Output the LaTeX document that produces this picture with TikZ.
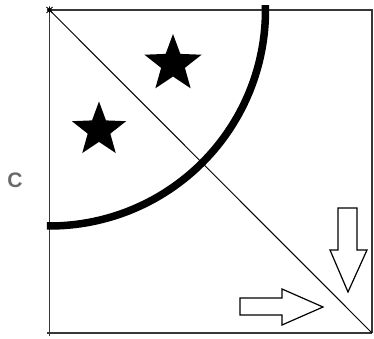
\documentclass[tikz,border=0pt]{standalone}
\usepackage{fontspec}
\setmainfont{Liberation Sans}
\usepackage{xcolor}
\usetikzlibrary{shapes.geometric}
\definecolor{framegray}{RGB}{55,55,55}
\definecolor{labelgray}{RGB}{105,105,105}

\begin{document}
\begin{tikzpicture}[
    x=1pt, y=1pt,
    frame/.style={draw=framegray, line width=1.9pt},
    diag/.style={draw=black, line width=1pt},
    bigarc/.style={draw=black, line width=7.5pt},
    starmark/.style={star, star points=5, star point ratio=2.4, fill=black, inner sep=0pt},
    hollow/.style={draw=black, fill=white, line width=1.2pt, line join=miter},
    lbl/.style={text=labelgray, font=\fontsize{21}{23}\selectfont\bfseries}
]
    \useasboundingbox (0,0) rectangle (374,338);

    % Corners
    \coordinate (tl) at (49.5,328);
    \coordinate (tr) at (372,328);
    \coordinate (br) at (372,5);
    \coordinate (bl) at (49.5,5);

    % Square
    \draw[frame] ([yshift=-3]bl) -- ([yshift=1]tl);
    \draw[frame] ([xshift=-2.5]tl) -- (tr) -- (br);
    \draw[frame] ([xshift=-2.5]bl) -- (br);

    % Corner mark
    \draw[black, line width=0.8pt] ([shift={(-3,-3)}]tl) -- ([shift={(3,3)}]tl)
        ([shift={(-3,3)}]tl) -- ([shift={(3,-3)}]tl)
        ([yshift=-3.5]tl) -- ([yshift=3.5]tl);
    \fill (tl) circle (2);

    % Diagonal
    \draw[diag] (tl) -- (br);

    % Quarter circle
    \draw[bigarc] ([shift={(1.3:216)}]tl) arc[start angle=1.3, end angle=-90.7, radius=216];

    % Stars
    \node[starmark, minimum size=60pt] (star1) at (173,274) {};
    \node[starmark, minimum size=57pt] (star2) at (99,208) {};

    % Arrows
    \draw[hollow] (338,130) -- (357,130) -- (357,88) -- (367,88) -- (348,46)
        -- (330,88) -- (338,88) -- cycle;
    \draw[hollow] (240,40) -- (282,40) -- (282,49) -- (323,31) -- (282,13)
        -- (282,23) -- (240,23) -- cycle;

    % Label
    \node[lbl] (labC) at (15,158) {C};
\end{tikzpicture}
\end{document}
